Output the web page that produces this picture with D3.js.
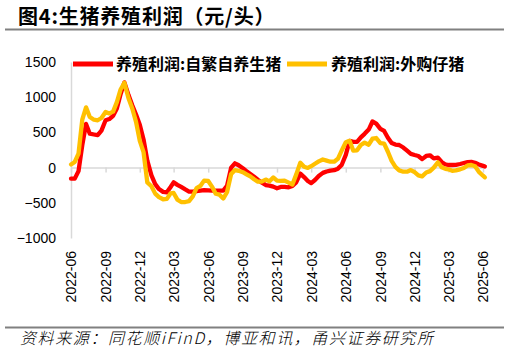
<!DOCTYPE html>
<html><head><meta charset="utf-8">
<script src="https://cdn.jsdelivr.net/npm/d3@7/dist/d3.min.js"></script>
<style>
html,body{margin:0;padding:0;background:#fff;}
svg{display:block;}
</style></head>
<body>
<svg id="c" width="509" height="354"></svg>
<script>
const title = "图4:生猪养殖利润（元/头）";
const source = "资料来源：同花顺iFinD，博亚和讯，甬兴证券研究所";
const seriesNames = ["养殖利润:自繁自养生猪", "养殖利润:外购仔猪"];
const xTickLabels = ["2022-06","2022-09","2022-12","2023-03","2023-06","2023-09","2023-12","2024-03","2024-06","2024-09","2024-12","2025-03","2025-06"];
const yTicks = [-1000,-500,0,500,1000,1500];

// observation dates: 1st, 11th, 21st of each month from 2022-06 to 2025-05, then 2025-06-01, 2025-06-06
const dates = [];
for (let m = 0; m < 36; m++) {
  for (const d of [1, 11, 21]) dates.push(new Date(2022, 5 + m, d));
}
dates.push(new Date(2025, 5, 1));
dates.push(new Date(2025, 5, 6));

const selfBred = [
-157,-157,-50, 320,620,482, 470,460,525, 672,690,735,
840,1045,1210, 1030,885,755, 610,400,100, -110,-235,-305,
-345,-350,-275, -210,-245,-275, -310,-340,-340, -333,-327,-321,
-323,-326,-328, -328,-328,-260, 0,61,33, -8,-50,-90,
-130,-172,-210, -248,-256,-270, -293,-275,-275, -280,-260,-210,
-85,-135,-190, -220,-176,-120, -75,-55,-42, -37,-15,37,
180,380,365, 365,430,480, 540,655,625, 550,520,425,
350,328,321, 285,240,195, 179,165,120, 165,175,132,
143,80,45, 37,37,40, 51,65,78, 80,68,45,
25,15];

const purchased = [
45,80,200, 680,855,719, 680,672,705, 790,770,795,
930,1110,1205, 985,840,650, 380,220,-210, -265,-370,-420,
-450,-445,-365, -360,-455,-489, -489,-477,-410, -290,-260,-185,
-190,-270,-370, -385,-440,-350, -90,-36,-45, -65,-95,-125,
-165,-200,-200, -170,-195,-140, -185,-190,-185, -214,-240,-100,
70,12,-5, 20,55,88, 115,100,84, 84,125,240,
360,380,240, 245,320,355, 325,410,420, 348,340,225,
95,10,-40, -58,-58,-35, -65,-110,-125, -70,-50,0,
75,5,-17, -25,-45,-40, -25,-5,30, 37,20,-60,
-115,-138];

const colors = ["#FF0000", "#FFC000"];
const parseM = d3.timeParse("%Y-%m");

const svg = d3.select("#c");
const x = d3.scaleTime().domain([parseM("2022-06"), parseM("2025-06")]).range([71, 483]);
const y = d3.scaleLinear().domain([-1000, 1500]).range([238, 62]);

// title & rules
svg.append("text").attr("x", 18).attr("y", 24)
  .attr("font-family", "'Noto Sans CJK SC', sans-serif").attr("font-weight", 700)
  .attr("font-size", 20).attr("letter-spacing", 0.8).attr("fill", "#000").text(title);
svg.append("line").attr("x1", 5).attr("x2", 504).attr("y1", 29.5).attr("y2", 29.5)
  .attr("stroke", "#808080").attr("stroke-width", 2);
svg.append("line").attr("x1", 5).attr("x2", 504).attr("y1", 327.5).attr("y2", 327.5)
  .attr("stroke", "#808080").attr("stroke-width", 2);
svg.append("text").attr("x", 20).attr("y", 344)
  .attr("font-family", "'Noto Sans CJK SC', sans-serif").attr("font-style", "italic")
  .attr("font-weight", 300).attr("letter-spacing", 1.6)
  .attr("font-size", 16).attr("fill", "#000").text(source);

// y axis
const yAxis = svg.append("g").attr("transform", "translate(71,0)")
  .call(d3.axisLeft(y).tickValues(yTicks).tickSize(0).tickPadding(15).tickFormat(d3.format("d")));
yAxis.select(".domain").attr("stroke", "#d9d9d9").attr("stroke-width", 1.5);
yAxis.selectAll("text").attr("font-family", "'Liberation Sans', Arial, sans-serif")
  .attr("font-size", 14).attr("fill", "#000");

// x axis (zero line)
const tickDates = xTickLabels.map(parseM);
const xAxis = svg.append("g").attr("transform", `translate(0,${y(0)})`)
  .call(d3.axisBottom(x).tickValues(tickDates).tickSizeInner(5).tickSizeOuter(0).tickFormat(""));
xAxis.select(".domain").attr("stroke", "#d9d9d9").attr("stroke-width", 1.5);
xAxis.selectAll(".tick line").attr("stroke", "#d9d9d9").attr("stroke-width", 1.5);

const xLab = svg.append("g").attr("transform", "translate(0,251)")
  .call(d3.axisBottom(x).tickValues(tickDates).tickSize(0).tickFormat((d, i) => xTickLabels[i]));
xLab.select(".domain").remove();
xLab.selectAll("text")
  .attr("transform", "rotate(-90)").attr("x", 0).attr("y", 0).attr("dy", "0.35em")
  .attr("text-anchor", "end")
  .attr("font-family", "'Liberation Sans', Arial, sans-serif")
  .attr("font-size", 14).attr("fill", "#000");

// lines
const series = [selfBred, purchased];
const line = d3.line().x((d, i) => x(dates[i])).y(d => y(d)).curve(d3.curveLinear);
series.forEach((s, k) => {
  svg.append("path").datum(s).attr("d", line)
    .attr("fill", "none").attr("stroke", colors[k]).attr("stroke-width", 4.3)
    .attr("stroke-linejoin", "round").attr("stroke-linecap", "round");
});

// legend
const legendPos = [{x1: 73, x2: 113, tx: 116}, {x1: 287, x2: 327, tx: 331}];
legendPos.forEach((p, k) => {
  svg.append("line").attr("x1", p.x1).attr("x2", p.x2).attr("y1", 64).attr("y2", 64)
    .attr("stroke", colors[k]).attr("stroke-width", 5);
  svg.append("text").attr("x", p.tx).attr("y", 64).attr("dy", "0.35em")
    .attr("font-family", "'Noto Sans CJK SC', sans-serif").attr("font-weight", 700)
    .attr("font-size", 16).attr("fill", "#000").text(seriesNames[k]);
});
</script>
</body></html>
